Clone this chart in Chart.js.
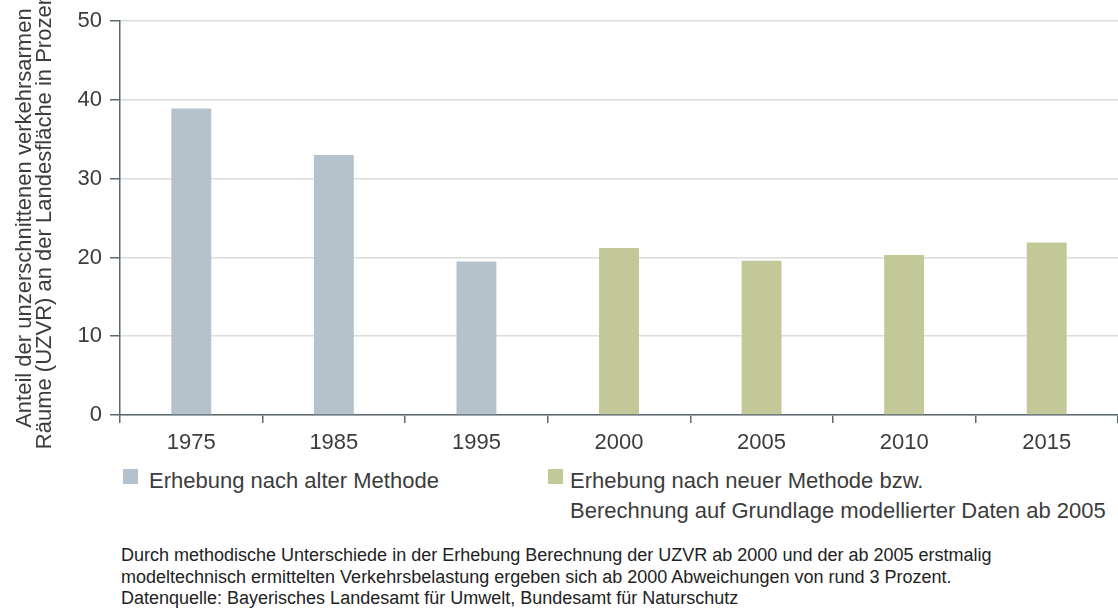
<!DOCTYPE html>
<html lang="de">
<head>
<meta charset="UTF-8">
<title>Unzerschnittene verkehrsarme Räume</title>
<script src="https://cdn.jsdelivr.net/npm/chart.js@4"></script>
<style>
  body { margin: 0; background: #fff; font-family: "Liberation Sans", Arial, sans-serif; color: #3c3c3c; }
  #wrap { position: relative; width: 1118px; height: 612px; overflow: hidden; }
  #chartBox { position: absolute; left: 0; top: 0; width: 1118px; height: 460px; }
  .legend-item { position: absolute; font-size: 22px; line-height: 30px; white-space: nowrap; }
  .swatch { position: absolute; width: 15px; height: 15px; }
  #note { position: absolute; left: 121px; top: 545px; font-size: 18px; line-height: 21.5px; color: #222; white-space: nowrap; }
</style>
</head>
<body>
<div id="wrap">
  <div id="chartBox"><canvas id="myChart"></canvas></div>
  <div id="legend"></div>
  <div id="note"></div>
</div>
<script>
// data
const years = ['1975', '1985', '1995', '2000', '2005', '2010', '2015'];
const oldMethod = [38.9, 33.0, 19.5, null, null, null, null];
const newMethod = [null, null, null, 21.2, 19.6, 20.3, 21.9];
const seriesNames = [
  ['Erhebung nach alter Methode'],
  ['Erhebung nach neuer Methode bzw.', 'Berechnung auf Grundlage modellierter Daten ab 2005']
];
const yTitle = ['Anteil der unzerschnittenen verkehrsarmen', 'Räume (UZVR) an der Landesfläche in Prozent'];
const noteLines = [
  'Durch methodische Unterschiede in der Erhebung Berechnung der UZVR ab 2000 und der ab 2005 erstmalig',
  'modeltechnisch ermittelten Verkehrsbelastung ergeben sich ab 2000 Abweichungen von rund 3 Prozent.',
  'Datenquelle: Bayerisches Landesamt für Umwelt, Bundesamt für Naturschutz'
];

const colors = ['#b5c2cc', '#c3c898'];
const axisColor = '#5b6870';
const textColor = '#3c3c3c';
const font = { family: '"Liberation Sans", Arial, sans-serif', size: 22 };

const ctx = document.getElementById('myChart').getContext('2d');
const chart = new Chart(ctx, {
  type: 'bar',
  data: {
    labels: years,
    datasets: [
      { label: seriesNames[0].join(' '), data: oldMethod, backgroundColor: colors[0] },
      { label: seriesNames[1].join(' '), data: newMethod, backgroundColor: colors[1] }
    ]
  },
  options: {
    responsive: true,
    maintainAspectRatio: false,
    animation: false,
    layout: { padding: { top: 20, right: 0, bottom: 0, left: 0 } },
    datasets: { bar: { grouped: false, categoryPercentage: 1, barPercentage: 0.28 } },
    plugins: { legend: { display: false }, tooltip: { enabled: false } },
    scales: {
      x: {
        grid: { drawOnChartArea: false, offset: true, tickLength: 8, color: axisColor, lineWidth: 1.5 },
        border: { color: axisColor, width: 1.5 },
        ticks: { font: font, color: textColor, padding: 7 },
        afterFit: function (s) { s.height = 45; }
      },
      y: {
        min: 0,
        max: 50,
        ticks: { stepSize: 10, font: font, color: textColor, padding: 8 },
        grid: { color: '#dcdcdc', lineWidth: 1.5, tickLength: 10, tickColor: axisColor },
        border: { color: axisColor, width: 1.5 },
        title: { display: true, text: yTitle, color: textColor, font: { family: font.family, size: 22, lineHeight: 0.92 }, padding: { top: 15, bottom: 0 } },
        afterFit: function (s) { s.width = 120; }
      }
    }
  }
});

// legend below the chart
const legendPos = [{ x: 123, textX: 149 }, { x: 548, textX: 570 }];
const legend = document.getElementById('legend');
seriesNames.forEach(function (lines, i) {
  const sw = document.createElement('div');
  sw.className = 'swatch';
  sw.style.left = legendPos[i].x + 'px';
  sw.style.top = '469px';
  sw.style.background = colors[i];
  legend.appendChild(sw);
  const txt = document.createElement('div');
  txt.className = 'legend-item';
  txt.style.left = legendPos[i].textX + 'px';
  txt.style.top = '466px';
  txt.innerHTML = lines.join('<br>');
  legend.appendChild(txt);
});

document.getElementById('note').innerHTML = noteLines.join('<br>');
</script>
</body>
</html>
